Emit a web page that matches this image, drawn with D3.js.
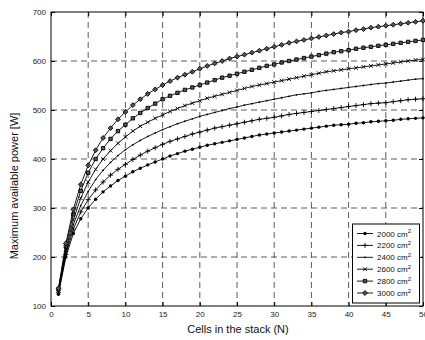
<!DOCTYPE html>
<html><head><meta charset="utf-8">
<script src="https://cdn.jsdelivr.net/npm/d3@7"></script>
<style>body{margin:0;background:#fff}svg{display:block}text{font-family:"Liberation Sans",Arial,sans-serif}</style>
</head><body><svg id="c" width="425" height="340"></svg>
<script>
// ---- data ----
const cells = [1,2,3,4,5,6,7,8,9,10,11,12,13,14,15,16,17,18,19,20,21,22,23,24,25,26,27,28,29,30,31,32,33,34,35,36,37,38,39,40,41,42,43,44,45,46,47,48,49,50];
const areas = ["2000","2200","2400","2600","2800","3000"];
const p2000 = [124,200,248,278,300,318,333,345,356,365,374,381,388,394,400,406,411,416,420,424,428,431,434,437,440,443,446,449,451,453,455,457,459,461,463,465,467,469,470,471,473,474,476,477,478,479,481,482,483,484];
const p2200 = [127,205,257,292,317,337,353,367,379,389,399,408,416,423,430,436,441,446,451,455,459,463,466,469,472,475,478,481,483,485,488,491,493,495,497,499,501,503,505,507,509,511,513,514,515,517,519,521,522,523];
const p2400 = [130,210,266,305,334,358,377,393,407,419,429,438,446,453,460,466,472,477,482,487,491,495,499,503,506,510,513,516,519,522,525,528,531,533,535,538,540,542,544,546,548,550,552,554,555,557,559,561,563,564];
const p2600 = [132,215,276,320,353,379,400,417,432,445,457,467,475,483,490,497,503,509,514,519,524,528,532,536,540,544,548,551,554,557,560,563,566,569,572,575,578,580,582,584,586,588,590,592,594,596,598,600,602,603];
const p2800 = [134,222,287,335,372,400,422,441,457,470,483,494,504,513,522,529,535,541,546,551,556,561,566,570,574,578,582,586,590,593,597,600,603,606,609,612,615,618,620,622,625,627,629,631,633,635,637,639,641,643];
const p3000 = [136,228,297,348,387,418,443,463,481,496,510,522,533,542,551,559,566,572,578,584,590,595,600,605,609,613,617,621,625,629,633,637,640,643,646,649,652,655,658,660,663,665,668,670,672,674,676,678,680,682];
const seriesValues = [p2000,p2200,p2400,p2600,p2800,p3000];
const markerTypes = ["dot","plus","point","cross","square","diamond"];
const xTicks = [0,5,10,15,20,25,30,35,40,45,50];
const yTicks = [100,200,300,400,500,600,700];
const xTitle = "Cells in the stack (N)";
const yTitle = "Maximum available power [W]";

// ---- drawing ----
const svg = d3.select("#c");
const L=51,R=423,T=12,B=306;
const x = d3.scaleLinear().domain([0,50]).range([L,R]);
const y = d3.scaleLinear().domain([100,700]).range([B,T]);

// grid
const g = svg.append("g");
g.selectAll(".vg").data(xTicks.slice(1,-1)).join("line")
  .attr("x1",d=>x(d)).attr("x2",d=>x(d)).attr("y1",T).attr("y2",B)
  .attr("stroke","#333").attr("stroke-width",0.8).attr("stroke-dasharray","6,4");
g.selectAll(".hg").data(yTicks.slice(1,-1)).join("line")
  .attr("y1",d=>y(d)).attr("y2",d=>y(d)).attr("x1",L).attr("x2",R)
  .attr("stroke","#333").attr("stroke-width",0.8).attr("stroke-dasharray","6,4");

// axes
const fs = "8px";
const ax = svg.append("g").attr("transform",`translate(0,${B})`)
  .call(d3.axisBottom(x).tickValues(xTicks).tickSize(-4).tickSizeOuter(0).tickPadding(5));
const axT = svg.append("g").attr("transform",`translate(0,${T})`)
  .call(d3.axisTop(x).tickValues(xTicks).tickSize(-4).tickSizeOuter(0).tickFormat(""));
const ay = svg.append("g").attr("transform",`translate(${L},0)`)
  .call(d3.axisLeft(y).tickValues(yTicks).tickSize(-4).tickSizeOuter(0).tickPadding(5));
const ayR = svg.append("g").attr("transform",`translate(${R},0)`)
  .call(d3.axisRight(y).tickValues(yTicks).tickSize(-4).tickSizeOuter(0).tickFormat(""));
[ax,axT,ay,ayR].forEach(a=>{
  a.select(".domain").remove();
  a.selectAll("line").attr("stroke","#000");
  a.selectAll("text").attr("font-size",fs).attr("fill","#222").attr("font-family","Liberation Sans, Arial, sans-serif");
});
ax.selectAll("text").attr("dy","0.71em");
svg.append("rect").attr("x",L).attr("y",T).attr("width",R-L).attr("height",B-T)
  .attr("fill","none").attr("stroke","#000").attr("stroke-width",1);

// titles
svg.append("text").attr("x",(L+R)/2+1).attr("y",333).attr("text-anchor","middle")
  .attr("font-size","11px").attr("fill","#111").text(xTitle);
svg.append("text").attr("transform","translate(18,186) rotate(-90)").attr("text-anchor","middle")
  .attr("font-size","11px").attr("fill","#111").text(yTitle);

// markers
function drawMarker(sel, type){
  if(type==="dot") sel.append("circle").attr("r",1.7).attr("fill","#000");
  else if(type==="point") sel.append("circle").attr("r",0.9).attr("fill","#000");
  else {
    const p = {plus:"M-2.5,0H2.5M0,-2.5V2.5", cross:"M-1.9,-1.9L1.9,1.9M-1.9,1.9L1.9,-1.9",
      square:"M-1.7,-1.7h3.4v3.4h-3.4z", diamond:"M0,-2.4L2.4,0L0,2.4L-2.4,0z"}[type];
    sel.append("path").attr("d",p).attr("stroke","#000").attr("stroke-width",0.9)
      .attr("fill", (type==="square"||type==="diamond") ? "#555" : "none");
  }
}
const line = d3.line().x((d,i)=>x(cells[i])).y(d=>y(d));
const plot = svg.append("g");
seriesValues.forEach((vals,k)=>{
  plot.append("path").attr("d",line(vals)).attr("fill","none").attr("stroke","#000").attr("stroke-width",0.9);
  vals.forEach((v,i)=>{
    const m = plot.append("g").attr("transform",`translate(${x(cells[i])},${y(v)})`);
    drawMarker(m, markerTypes[k]);
  });
});

// legend
const lg = svg.append("g");
lg.append("rect").attr("x",352.5).attr("y",224).attr("width",67).attr("height",79)
  .attr("fill","#fff").attr("stroke","#000").attr("stroke-width",1);
areas.forEach((a,k)=>{
  const yy = 233.5 + k*11.9;
  lg.append("line").attr("x1",357).attr("x2",373).attr("y1",yy).attr("y2",yy).attr("stroke","#000").attr("stroke-width",0.9);
  const m = lg.append("g").attr("transform",`translate(365,${yy})`);
  drawMarker(m, markerTypes[k]);
  const t = lg.append("text").attr("x",377).attr("y",yy+3).attr("font-size","8px").attr("fill","#111");
  t.append("tspan").text(a+" cm");
  t.append("tspan").attr("dy",-3.5).attr("font-size","6px").text("2");
});
</script></body></html>
